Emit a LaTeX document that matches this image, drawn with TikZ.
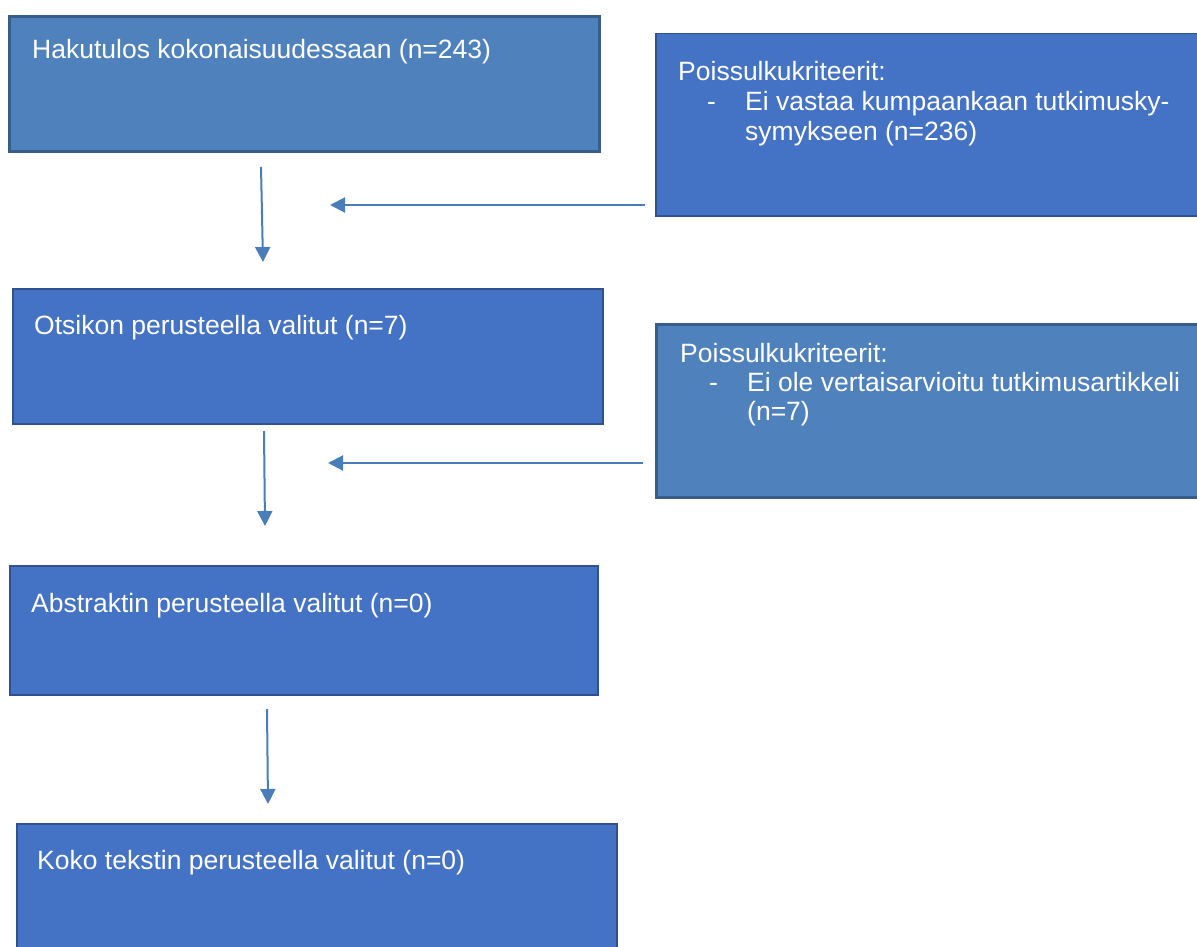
\documentclass[tikz,border=0pt]{standalone}
\usepackage{fontspec}
\setmainfont{Liberation Sans}
\usetikzlibrary{arrows.meta}
\definecolor{fillA}{RGB}{79,129,189}
\definecolor{lineA}{RGB}{56,93,138}
\definecolor{fillB}{RGB}{68,114,196}
\definecolor{lineB}{RGB}{47,82,143}
\definecolor{arrowc}{RGB}{74,126,187}
\begin{document}
\begin{tikzpicture}[x=1pt,y=-1pt,font=\fontsize{26.5}{32}\selectfont]
\tikzstyle{light}=[draw=lineA,fill=fillA,line width=3pt,anchor=north west,inner sep=0pt]
\tikzstyle{dark}=[draw=lineB,fill=fillB,line width=1.5pt,anchor=north west,inner sep=0pt]
\tikzstyle{txt}=[text=white,inner sep=0pt,anchor=base west]
\tikzstyle{flow}=[draw=arrowc,line width=2pt,-{Triangle[width=15pt,length=15pt]}]
\useasboundingbox (0,0) rectangle (1197,947);
\clip (0,0) rectangle (1197,947);
\node[light] (hits) [minimum width=590pt,minimum height=135pt] at (8,15) {};
\node[dark] (excl1) [minimum width=560pt,minimum height=182pt] at (655,33) {};
\node[dark] (title) [minimum width=590pt,minimum height=135pt] at (12,288) {};
\node[light] (excl2) [minimum width=560pt,minimum height=173pt] at (655,323) {};
\node[dark] (abstr) [minimum width=588pt,minimum height=129pt] at (9,565) {};
\node[dark] (full) [minimum width=600pt,minimum height=140pt] at (16,823) {};

\node[txt] (hitst) at (32,59) {Hakutulos kokonaisuudessaan (n=243)};
\node[txt] (excl1a) at (678,81) {Poissulkukriteerit:};
\node[txt] (excl1b) at (707,111) {-};
\node[txt] (excl1c) at (745,111) {Ei vastaa kumpaankaan tutkimusky-};
\node[txt] (excl1d) at (745,141) {symykseen (n=236)};
\node[txt] (titlet) at (34,334) {Otsikon perusteella valitut (n=7)};
\node[txt] (excl2a) at (680,362) {Poissulkukriteerit:};
\node[txt] (excl2b) at (709,391) {-};
\node[txt] (excl2c) at (747,391) {Ei ole vertaisarvioitu tutkimusartikkeli};
\node[txt] (excl2d) at (747,420) {(n=7)};
\node[txt] (abstrt) at (31,612) {Abstraktin perusteella valitut (n=0)};
\node[txt] (fullt) at (37,869) {Koko tekstin perusteella valitut (n=0)};

\coordinate (d1s) at (261,167);
\coordinate (d1e) at (263,262);
\coordinate (h1s) at (645,205);
\coordinate (h1e) at (330,205);
\coordinate (d2s) at (264,431);
\coordinate (d2e) at (265,526);
\coordinate (h2s) at (643,463);
\coordinate (h2e) at (328,463);
\coordinate (d3s) at (267,709);
\coordinate (d3e) at (268,804);
\path (d1s) edge[flow] (d1e);
\path (h1s) edge[flow] (h1e);
\path (d2s) edge[flow] (d2e);
\path (h2s) edge[flow] (h2e);
\path (d3s) edge[flow] (d3e);
\end{tikzpicture}
\end{document}
